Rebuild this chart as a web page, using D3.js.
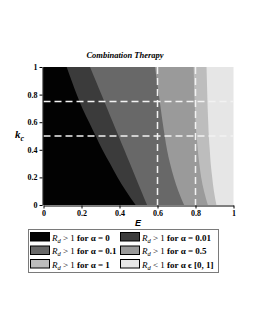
<!DOCTYPE html>
<html>
<head>
<meta charset="utf-8">
<script src="https://cdn.jsdelivr.net/npm/d3@7"></script>
<style>
	body { margin: 0; background: #fff; }
	svg { display: block; }
	.axis text { font-family: 'Liberation Serif', 'Times New Roman', serif; font-weight: bold; font-size: 8px; fill: #000; }
	.axis path, .axis line { stroke: #000; stroke-width: 1; }
	.leg { font-family: 'Liberation Serif', 'Times New Roman', serif; font-size: 9px; fill: #000; }
</style>
</head>
<body>
<div id="graphic"></div>
<script>
let kLevels = [0, 0.1, 0.2, 0.3, 0.4, 0.5, 0.6, 0.7, 0.8, 0.9, 1];

// E value of the R_d = 1 boundary at each k level, per alpha
let edgeAlpha0 = [0.485, 0.435, 0.39, 0.35, 0.31, 0.275, 0.24, 0.205, 0.175, 0.148, 0.122];
let edgeAlpha001 = [0.545, 0.515, 0.485, 0.455, 0.425, 0.395, 0.365, 0.335, 0.305, 0.275, 0.245];
let edgeAlpha01 = [0.74, 0.71, 0.686, 0.666, 0.65, 0.638, 0.627, 0.617, 0.607, 0.597, 0.587];
let edgeAlpha05 = [0.865, 0.845, 0.83, 0.82, 0.812, 0.806, 0.80, 0.797, 0.794, 0.792, 0.79];
let edgeAlpha1 = [0.91, 0.897, 0.888, 0.88, 0.875, 0.87, 0.867, 0.864, 0.862, 0.86, 0.858];

let regionColours = ['#020202', '#3b3b3b', '#686868', '#9a9a9a', '#bdbdbd', '#e6e6e6'];
let legendAlpha = ['0', '0.01', '0.1', '0.5', '1', '[0, 1]'];

let tickValues = [0, 0.2, 0.4, 0.6, 0.8, 1];
let dashE = [0.6, 0.8];
let dashK = [0.75, 0.5];

const width = 255, height = 330;

const svg = d3.select('#graphic')
	.append('svg')
	.attr('width', width)
	.attr('height', height);

const x = d3.scaleLinear().domain([0, 1]).range([43.5, 233.5]);
const y = d3.scaleLinear().domain([0, 1]).range([205, 67]);

// background = R_d < 1 everywhere
svg.append('rect')
	.attr('x', x(0))
	.attr('y', y(1))
	.attr('width', x(1) - x(0))
	.attr('height', y(0) - y(1))
	.attr('fill', regionColours[5]);

// stack the regions, widest first
let edges = [edgeAlpha1, edgeAlpha05, edgeAlpha01, edgeAlpha001, edgeAlpha0];
let edgeColours = [regionColours[4], regionColours[3], regionColours[2], regionColours[1], regionColours[0]];

const area = d3.area()
	.y((d) => y(d.k))
	.x0(x(0))
	.x1((d) => x(d.e))
	.curve(d3.curveMonotoneY);

edges.forEach((edge, i) => {
	let pts = kLevels.map((k, j) => ({ k: k, e: edge[j] }));
	svg.append('path')
		.datum(pts)
		.attr('d', area)
		.attr('fill', edgeColours[i]);
});

// dashed guides
svg.append('g')
	.selectAll('line')
	.data(dashE)
	.join('line')
	.attr('x1', (d) => x(d))
	.attr('x2', (d) => x(d))
	.attr('y1', y(1))
	.attr('y2', y(0))
	.attr('stroke', '#f2f2f2')
	.attr('stroke-width', 1.5)
	.attr('stroke-dasharray', '7,4');

svg.append('g')
	.selectAll('line')
	.data(dashK)
	.join('line')
	.attr('x1', x(0))
	.attr('x2', x(1))
	.attr('y1', (d) => y(d))
	.attr('y2', (d) => y(d))
	.attr('stroke', '#f2f2f2')
	.attr('stroke-width', 1.5)
	.attr('stroke-dasharray', '7,4');

// axes
svg.append('g')
	.attr('class', 'axis')
	.attr('transform', 'translate(' + (x(0) - 1) + ',0)')
	.call(d3.axisLeft(y).tickValues(tickValues).tickSize(3).tickSizeOuter(0).tickPadding(2).tickFormat((d) => d));

svg.append('g')
	.attr('class', 'axis')
	.attr('transform', 'translate(0,' + (y(0) + 0.5) + ')')
	.call(d3.axisBottom(x).tickValues(tickValues).tickSize(3).tickSizeOuter(0).tickPadding(2).tickFormat((d) => d));

// title
svg.append('text')
	.attr('x', 125)
	.attr('y', 58)
	.attr('text-anchor', 'middle')
	.style('font-family', "'Liberation Serif', serif")
	.style('font-weight', 'bold')
	.style('font-style', 'italic')
	.style('font-size', '8.5px')
	.text('Combination Therapy');

// axis labels
let kLabel = svg.append('text')
	.attr('x', 15)
	.attr('y', 138)
	.style('font-family', "'Liberation Serif', serif")
	.style('font-weight', 'bold')
	.style('font-style', 'italic')
	.style('font-size', '11px');
kLabel.append('tspan').text('k');
kLabel.append('tspan').attr('dy', 3).style('font-size', '8px').text('c');

svg.append('text')
	.attr('x', 138)
	.attr('y', 226)
	.attr('text-anchor', 'middle')
	.style('font-family', "'Liberation Sans', sans-serif")
	.style('font-weight', 'bold')
	.style('font-style', 'italic')
	.style('font-size', '9px')
	.text('E');

// legend
svg.append('rect')
	.attr('x', 28.5)
	.attr('y', 229.5)
	.attr('width', 190)
	.attr('height', 43)
	.attr('fill', '#fff')
	.attr('stroke', '#7a7a7a')
	.attr('stroke-width', 1);

let legendItems = regionColours.map((c, i) => ({
	colour: c,
	alpha: legendAlpha[i],
	col: i % 2,
	row: Math.floor(i / 2)
}));

let items = svg.append('g')
	.selectAll('g')
	.data(legendItems)
	.join('g')
	.attr('transform', (d) => 'translate(' + (d.col === 0 ? 30.5 : 120.5) + ',' + (232.5 + d.row * 13.5) + ')');

items.append('rect')
	.attr('width', 19)
	.attr('height', 8.5)
	.attr('fill', (d) => d.colour)
	.attr('stroke', '#000')
	.attr('stroke-width', 1);

let texts = items.append('text')
	.attr('class', 'leg')
	.attr('x', 21.5)
	.attr('y', 8);

texts.append('tspan').style('font-style', 'italic').text('R');
texts.append('tspan').style('font-style', 'italic').style('font-size', '6.5px').attr('dy', 2).text('d');
texts.append('tspan').attr('dy', -2).text((d, i) => i === 5 ? ' < 1 ' : ' > 1 ');
texts.append('tspan').style('font-weight', 'bold').text('for');
texts.append('tspan').style('font-weight', 'bold').text((d, i) => i === 5 ? ' \u03b1 \u03f5 ' + d.alpha : ' \u03b1 = ' + d.alpha);
</script>
</body>
</html>
